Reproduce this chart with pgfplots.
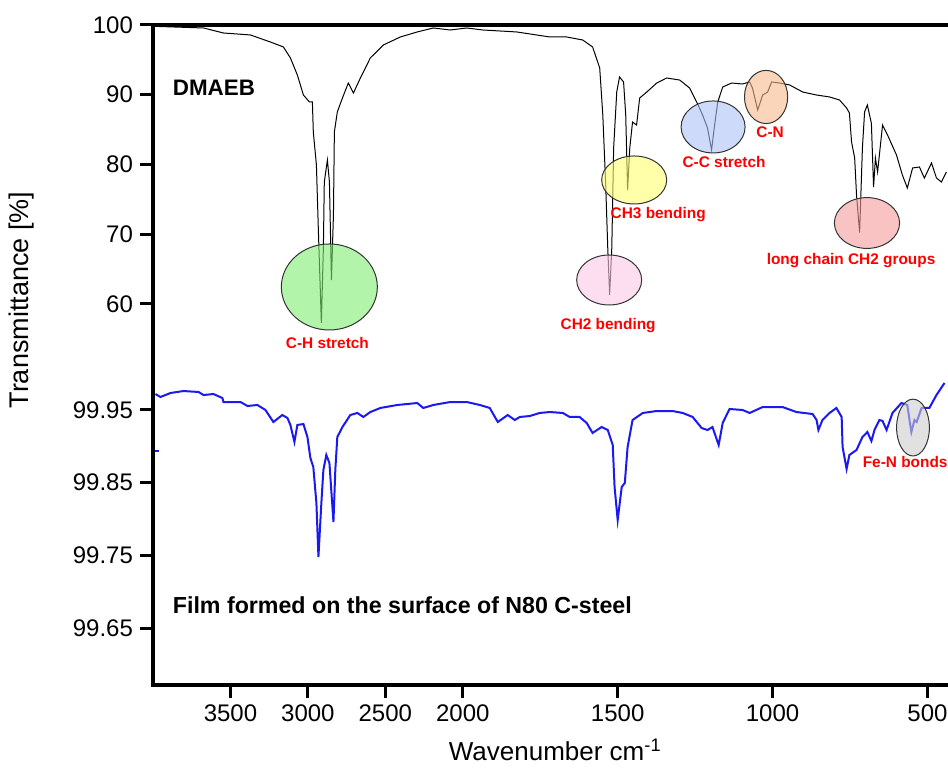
\documentclass[border=0pt]{standalone}
\usepackage{fontspec}
\setmainfont{Liberation Sans}
\usepackage{pgfplots}
\pgfplotsset{compat=1.18}
\usepackage{pgfplotstable}

\pgfplotstableread{
wn T
3984 99.8
3674 99.57
3545 98.85
3371 98.57
3242 97.56
3158 96.85
3113 95.27
3068 92.83
3029 89.96
2990 88.96
2971 88.96
2965 84.66
2945 79.93
2932 70.32
2913 57.28
2900 68.03
2894 77.49
2874 80.64
2861 77.49
2848 63.44
2835 72.76
2829 84.66
2810 87.53
2777 89.53
2739 91.68
2706 90.25
2661 92.40
2597 95.27
2513 97.13
2403 98.28
2294 99.00
2190 99.57
2081 99.28
1987 99.57
1935 99.28
1826 99.00
1719 98.28
1665 98.28
1613 97.85
1581 96.85
1558 93.84
1548 87.10
1539 77.49
1532 68.03
1526 61.29
1519 68.03
1513 82.37
1503 90.39
1494 92.54
1481 91.83
1474 87.10
1468 76.34
1461 82.37
1452 86.09
1439 85.66
1429 89.53
1406 90.39
1374 91.68
1342 92.40
1300 92.11
1268 90.97
1245 88.96
1226 87.10
1210 85.23
1197 82.08
1187 85.66
1177 88.96
1161 91.11
1132 91.68
1097 91.54
1074 91.83
1065 90.97
1048 87.81
1032 89.96
1016 90.39
1003 91.83
977 91.68
945 91.40
903 90.39
858 89.96
816 89.68
784 89.25
761 88.10
752 87.38
745 83.23
735 80.93
729 75.63
719 70.25
710 82.37
703 87.53
694 88.53
681 85.90
674 76.77
668 80.93
661 78.92
645 85.66
629 84.23
600 81.36
581 78.49
565 76.63
548 79.50
526 79.64
510 78.06
487 80.21
471 78.06
455 77.49
439 78.92
}\dmaeb

\pgfplotstableread{
wn T
3984 99.972
3952 99.9679
3887 99.9734
3803 99.9761
3706 99.9748
3674 99.9706
3610 99.9720
3552 99.9665
3545 99.9610
3435 99.9610
3390 99.9555
3326 99.9569
3274 99.9500
3223 99.9335
3165 99.9431
3132 99.9390
3113 99.9294
3087 99.9060
3068 99.9294
3029 99.9307
3003 99.9128
2984 99.8840
2965 99.8716
2945 99.8220
2932 99.7477
2913 99.8220
2900 99.8674
2881 99.8881
2861 99.8771
2835 99.7959
2823 99.8674
2810 99.9128
2777 99.9266
2726 99.9431
2681 99.9459
2642 99.9404
2597 99.9472
2532 99.9528
2423 99.9569
2294 99.9596
2255 99.9528
2190 99.9569
2081 99.9610
1987 99.9610
1945 99.9569
1913 99.9528
1887 99.9335
1855 99.9431
1832 99.9362
1816 99.9404
1784 99.9417
1752 99.9459
1719 99.9472
1677 99.9459
1655 99.9404
1623 99.9404
1600 99.9321
1581 99.9184
1552 99.9266
1532 99.9225
1516 99.9018
1510 99.8440
1500 99.7986
1487 99.8440
1477 99.8496
1468 99.8991
1452 99.9362
1419 99.9459
1374 99.9486
1323 99.9486
1290 99.9459
1258 99.9404
1229 99.9252
1210 99.9225
1194 99.9266
1174 99.9018
1161 99.9321
1139 99.9514
1097 99.9500
1074 99.9459
1032 99.9541
968 99.9541
923 99.9472
871 99.9445
858 99.9362
852 99.9225
839 99.9362
816 99.9459
794 99.9528
777 99.9404
774 99.8991
761 99.8688
752 99.8881
729 99.8950
710 99.9128
694 99.9197
681 99.9073
671 99.9225
655 99.9362
645 99.9349
632 99.9225
613 99.9459
584 99.9596
565 99.9569
558 99.9362
552 99.9197
542 99.9362
535 99.9335
519 99.9528
494 99.9528
471 99.9706
445 99.9872
}\film

\definecolor{cgreen}{RGB}{127,238,113}
\definecolor{cpink}{RGB}{252,200,230}
\definecolor{cyellow}{RGB}{255,255,113}
\definecolor{cblue}{RGB}{172,193,247}
\definecolor{corange}{RGB}{247,185,138}
\definecolor{csalmon}{RGB}{247,155,155}
\definecolor{cgray}{RGB}{205,205,205}
\definecolor{lineblue}{RGB}{25,25,240}

\pgfplotsset{
  common/.style={
    scale only axis, width=397.5pt, height=330pt,
    at={(0,0)}, anchor=south west,
    xmin=0, xmax=10.265,
    clip=false,
    axis line style={draw=none},
    tick align=outside,
    major tick length=6.5pt,
    every tick/.style={black, line width=1.5pt},
    xtick pos=left, ytick pos=left,
    /pgf/number format/assume math mode=true,
    ticklabel style={font=\fontsize{12}{14}\selectfont},
  }
}

\begin{document}
\begin{tikzpicture}
\begin{axis}[common,
  ymin=5.38, ymax=100,
  ytick={60,70,80,90,100},
  yticklabels={60,70,80,90,100},
  xtick={1,2,3,4,6,8,10},
  xticklabels={3500,3000,2500,2000,1500,1000,500},
]
\addplot[black, line width=0.5pt] table[x expr={(4000-\thisrow{wn})/500+max(0,2000-\thisrow{wn})/500}, y=T] {\dmaeb};
\begin{scope}[fill opacity=0.6, draw=black!80, line width=0.5pt]
\filldraw[fill=cgreen] (2.277,62.44) ellipse [x radius=24pt, y radius=21.5pt];
\filldraw[fill=cpink] (5.890,63.44) ellipse [x radius=16.25pt, y radius=12.5pt];
\filldraw[fill=cyellow] (6.213,77.78) ellipse [x radius=16.25pt, y radius=12pt];
\filldraw[fill=cblue] (7.232,85.38) ellipse [x radius=16pt, y radius=13pt];
\filldraw[fill=corange] (7.916,89.68) ellipse [x radius=10.8pt, y radius=13.3pt];
\filldraw[fill=csalmon] (9.219,71.61) ellipse [x radius=16.3pt, y radius=12.7pt];
\end{scope}
\begin{scope}[every node/.style={text=red, font=\bfseries\fontsize{7.7}{9}\selectfont, inner sep=0pt}]
\node at (2.252,54.41) {C-H stretch};
\node at (5.877,56.85) {CH2 bending};
\node at (6.523,72.76) {CH3 bending};
\node at (7.374,80.36) {C-C stretch};
\node at (7.968,84.66) {C-N};
\node at (9.013,66.16) {long chain CH2 groups};
\node[anchor=west] at (9.16,37.35) {Fe-N bonds};
\end{scope}
\node[anchor=west, inner sep=0pt, font=\bfseries\fontsize{11.2}{13}\selectfont] at (0.252,90.97) {DMAEB};
\node[anchor=west, inner sep=0pt, font=\bfseries\fontsize{11.6}{13}\selectfont] at (0.252,16.85) {Film formed on the surface of N80 C-steel};
\node[rotate=90, font=\fontsize{13.5}{15}\selectfont] at ([xshift=-65.5pt]rel axis cs:0,0.583) {Transmittance [\%]};
\node[font=\fontsize{13}{15}\selectfont] at ([yshift=-32.5pt]rel axis cs:0.506,0) {Wavenumber cm\textsuperscript{-1}};
\end{axis}
\begin{axis}[common,
  ymin=99.5716, ymax=100.4798,
  ytick={99.65,99.75,99.85,99.95},
  yticklabels={99.65,99.75,99.85,99.95},
  xtick=\empty,
]
\addplot[lineblue, line width=1pt] table[x expr={(4000-\thisrow{wn})/500+max(0,2000-\thisrow{wn})/500}, y=T] {\film};
\addplot[lineblue, line width=1pt] coordinates {(0.02,99.894) (0.08,99.894)};
\filldraw[fill=cgray, fill opacity=0.6, draw=black!80, line width=0.5pt] (9.813,99.9258) ellipse [x radius=8.2pt, y radius=14.2pt];
\end{axis}
\draw[line width=1.6pt, line join=miter] (0,330pt) -- (0,0) -- (397.5pt,0);
\draw[line width=1.6pt] (0,330pt) -- (397.5pt,330pt);
\pgfresetboundingbox
\path[use as bounding box] (-76.5pt,-42.5pt) rectangle (397.5pt,342.5pt);
\end{tikzpicture}
\end{document}
